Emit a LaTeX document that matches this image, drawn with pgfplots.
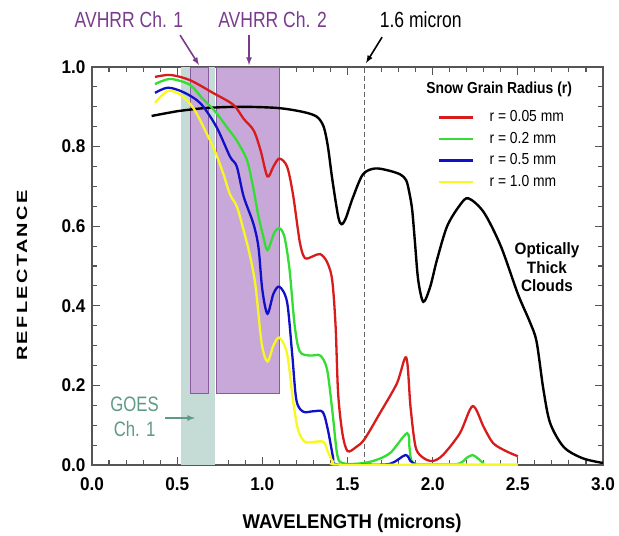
\documentclass[border=0pt]{standalone}
\usepackage{fontspec}
\setmainfont{Liberation Sans}
\newfontfamily\nfA{Liberation Sans}[FakeStretch=0.80]
\newfontfamily\nfB{Liberation Sans}[FakeStretch=0.87]
\newfontfamily\nfT{Liberation Sans}[FakeStretch=0.93]
\usepackage{pgfplots}
\pgfplotsset{compat=1.18}

\definecolor{rcol}{HTML}{D81C1C}
\definecolor{gcol}{HTML}{33DD33}
\definecolor{bcol}{HTML}{1010C8}
\definecolor{ycol}{HTML}{F8F820}
\definecolor{purfill}{HTML}{C8A8D8}
\definecolor{purline}{HTML}{8A5A9E}
\definecolor{purtext}{HTML}{7A3B8F}
\definecolor{goesfill}{HTML}{C4DCD5}
\definecolor{goestext}{HTML}{5E9A85}
\definecolor{axisgray}{HTML}{555555}

\begin{document}
\begin{tikzpicture}
\useasboundingbox (-92bp,-71bp) rectangle (527bp,465bp);
\begin{axis}[
    at={(0,0)}, anchor=south west,
    scale only axis,
    width=511bp, height=398bp,
    xmin=0, xmax=3, ymin=0, ymax=1,
    xtick={0,0.5,1,1.5,2,2.5,3},
    ytick={0,0.2,0.4,0.6,0.8,1},
    minor x tick num=4,
    minor y tick num=3,
    tick pos=both,
    major tick length=8bp,
    minor tick length=5bp,
    tick style={axisgray, line width=1.1bp},
    axis line style={axisgray, line width=1.5bp},
    clip mode=individual,
    /pgf/number format/assume math mode=true,
    ticklabel style={font=\nfT\bfseries\fontsize{18.5}{19}\selectfont,
        /pgf/number format/fixed, /pgf/number format/fixed zerofill,
        /pgf/number format/precision=1},
    xticklabel style={yshift=-9bp},
    yticklabel style={xshift=-3bp},
    xlabel={WAVELENGTH (microns)},
    ylabel={\scalebox{1}[0.74]{\addfontfeatures{LetterSpace=12}REFLECTANCE}},
    xlabel style={font=\nfT\bfseries\fontsize{20}{21}\selectfont,
        at={(axis description cs:0.509,-0.146)}, anchor=center},
    ylabel style={font=\bfseries\fontsize{20}{21}\selectfont,
        at={(axis description cs:-0.137,0.476)}, anchor=center},
    legend style={at={(axis description cs:0.677,0.891)}, anchor=north west,
        draw=none, fill=none, inner sep=0pt,
        font=\nfB\fontsize{16}{16}\selectfont, row sep=8bp,
        nodes={text height=11bp, text depth=2.5bp, inner ysep=0pt},
        cells={anchor=west}},
    legend image code/.code={\draw[#1, line width=2.5bp] (0bp,0bp) -- (34bp,0bp); \path (47bp,0bp);},
]
% satellite channels
\addplot[fill=goesfill, draw=none, forget plot] coordinates {(0.52,0) (0.72,0) (0.72,1) (0.52,1)} -- cycle;
\addplot[fill=purfill, draw=purline, line width=0.6bp, forget plot] coordinates {(0.58,0.18) (0.68,0.18) (0.68,1) (0.58,1)} -- cycle;
\addplot[fill=purfill, draw=purline, line width=0.6bp, forget plot] coordinates {(0.73,0.18) (1.10,0.18) (1.10,1) (0.73,1)} -- cycle;
\addplot[gray!80!black, dash pattern=on 5bp off 3bp, line width=1.3bp, forget plot] coordinates {(1.6,0) (1.6,1)};

% optically thick clouds
\addplot[black, line width=2.4bp, smooth, forget plot] coordinates {
    (0.35,0.877) (0.45,0.885) (0.52,0.89) (0.67,0.897) (0.87,0.90) (1.09,0.897)
    (1.24,0.887) (1.32,0.875) (1.36,0.85) (1.385,0.80) (1.41,0.72) (1.445,0.625)
    (1.465,0.605) (1.49,0.62) (1.53,0.67) (1.59,0.73) (1.66,0.745) (1.74,0.74)
    (1.81,0.73) (1.845,0.715) (1.865,0.68) (1.88,0.64) (1.895,0.565) (1.915,0.465)
    (1.945,0.41) (1.985,0.447) (2.025,0.515) (2.085,0.60) (2.16,0.653) (2.21,0.67)
    (2.30,0.635) (2.40,0.55) (2.50,0.43) (2.57,0.36) (2.61,0.31) (2.65,0.19)
    (2.69,0.105) (2.77,0.045) (2.88,0.017) (3.0,0.005)
};

% snow, r = 0.05 mm
\addplot[rcol, line width=2.3bp, smooth] coordinates {
    (0.37,0.975) (0.46,0.98) (0.575,0.967) (0.71,0.935) (0.83,0.905) (0.89,0.87)
    (0.95,0.84) (0.99,0.79) (1.03,0.725) (1.065,0.75) (1.10,0.77) (1.145,0.75)
    (1.18,0.68) (1.22,0.56) (1.25,0.52) (1.30,0.525) (1.34,0.53) (1.38,0.51)
    (1.41,0.465) (1.43,0.35) (1.445,0.18) (1.47,0.08) (1.50,0.035) (1.55,0.045)
    (1.60,0.065) (1.69,0.13) (1.79,0.205) (1.845,0.27) (1.87,0.146) (1.90,0.045)
    (1.945,0.018) (2.0,0.01) (2.06,0.025) (2.16,0.08) (2.235,0.148) (2.30,0.095)
    (2.355,0.055) (2.43,0.035) (2.50,0.022)
};
\addlegendentry{r = 0.05 mm}

% snow, r = 0.2 mm
\addplot[gcol, line width=2.3bp, smooth] coordinates {
    (0.37,0.957) (0.46,0.97) (0.575,0.955) (0.65,0.92) (0.72,0.89) (0.79,0.85)
    (0.85,0.815) (0.91,0.766) (0.945,0.70) (0.975,0.63) (1.005,0.575) (1.03,0.54)
    (1.07,0.583) (1.10,0.595) (1.13,0.573) (1.16,0.49) (1.19,0.35) (1.22,0.285)
    (1.28,0.275) (1.34,0.275) (1.38,0.24) (1.41,0.14) (1.44,0.025) (1.47,0.005)
    (1.55,0.003) (1.65,0.01) (1.75,0.03) (1.85,0.08) (1.865,0.04) (1.885,0.005)
    (2.0,0.002) (2.15,0.003) (2.2,0.018) (2.235,0.025) (2.27,0.015) (2.3,0.003)
};
\addlegendentry{r = 0.2 mm}

% snow, r = 0.5 mm
\addplot[bcol, line width=2.3bp, smooth] coordinates {
    (0.37,0.935) (0.445,0.948) (0.535,0.937) (0.636,0.909) (0.73,0.85) (0.81,0.775)
    (0.85,0.75) (0.89,0.675) (0.947,0.607) (0.977,0.548) (1.0,0.44) (1.03,0.38)
    (1.065,0.43) (1.10,0.448) (1.145,0.41) (1.175,0.28) (1.20,0.163) (1.24,0.134)
    (1.30,0.135) (1.355,0.133) (1.385,0.088) (1.415,0.02) (1.43,0.002) (1.6,0.001)
    (1.75,0.003) (1.84,0.025) (1.87,0.01) (1.9,0.001)
};
\addlegendentry{r = 0.5 mm}

% snow, r = 1.0 mm
\addplot[ycol, line width=2.3bp, smooth] coordinates {
    (0.37,0.91) (0.445,0.94) (0.52,0.93) (0.595,0.897) (0.665,0.84) (0.72,0.79)
    (0.77,0.733) (0.81,0.68) (0.85,0.65) (0.89,0.59) (0.928,0.525) (0.96,0.45)
    (0.996,0.306) (1.03,0.26) (1.065,0.30) (1.10,0.32) (1.145,0.28) (1.18,0.163)
    (1.21,0.088) (1.25,0.058) (1.30,0.058) (1.36,0.058) (1.385,0.033) (1.415,0.008)
    (1.45,0.001) (2.0,0.001) (2.5,0.001)
};
\addlegendentry{r = 1.0 mm}

% annotations
\node[font=\nfB\bfseries\fontsize{16}{16}\selectfont] at (axis cs:2.39,0.945) {Snow Grain Radius (r)};
\node[font=\nfT\bfseries\fontsize{16.5}{18.5}\selectfont, align=center] at (axis cs:2.671,0.497) {Optically\\Thick\\Clouds};
\node[purtext, font=\nfA\fontsize{22}{22}\selectfont] at (axis cs:0.217,1.118) {AVHRR Ch. 1};
\node[purtext, font=\nfA\fontsize{22}{22}\selectfont] at (axis cs:1.06,1.118) {AVHRR Ch. 2};
\node[font=\nfA\fontsize{22}{22}\selectfont] at (axis cs:1.93,1.118) {1.6 micron};
\draw[purtext, line width=1.6bp, -latex] (axis cs:0.517,1.080) -- (axis cs:0.628,1.005);
\draw[purtext, line width=1.6bp, -latex] (axis cs:0.922,1.080) -- (axis cs:0.922,1.005);
\draw[black, line width=1.6bp, -latex] (axis cs:1.703,1.075) -- (axis cs:1.609,1.010);
\node[goestext, font=\nfA\fontsize{21}{25}\selectfont, align=center] at (axis cs:0.25,0.12) {GOES\\Ch. 1};
\draw[goestext, line width=1.6bp, -latex] (axis cs:0.429,0.118) -- (axis cs:0.605,0.118);
\end{axis}
\end{tikzpicture}
\end{document}
